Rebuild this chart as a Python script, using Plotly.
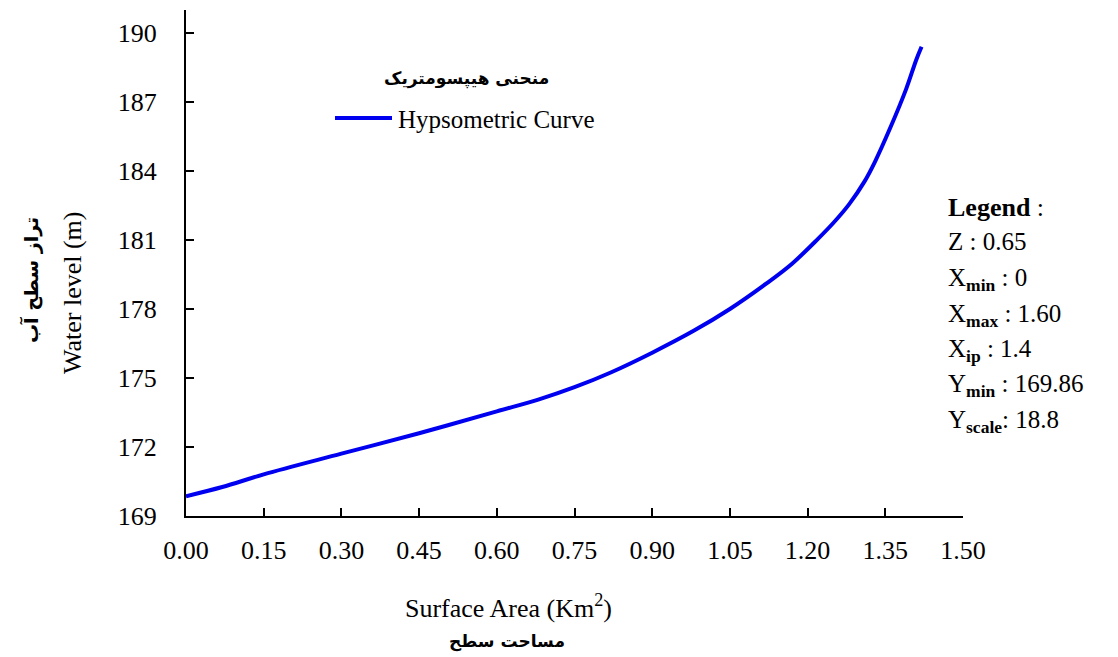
import plotly.graph_objects as go

# Hypsometric curve: surface area (km²) vs water level (m)
area_km2 = [0.00, 0.07, 0.15, 0.30, 0.45, 0.60, 0.68, 0.75, 0.82, 0.90, 0.98, 1.05, 1.12, 1.17,
            1.22, 1.25, 1.28, 1.31, 1.33, 1.36, 1.39, 1.41, 1.42]
water_level_m = [169.86, 170.26, 170.81, 171.71, 172.60, 173.55, 174.06, 174.60, 175.24, 176.10,
                 177.05, 178.00, 179.10, 179.97, 181.05, 181.75, 182.55, 183.55, 184.40, 185.90,
                 187.55, 188.85, 189.40]

x_ticks = [0.00, 0.15, 0.30, 0.45, 0.60, 0.75, 0.90, 1.05, 1.20, 1.35, 1.50]
y_ticks = [169, 172, 175, 178, 181, 184, 187, 190]

# Model parameters listed at the right of the chart
param_lines = [
    "Z : 0.65",
    "X<sub><b>min</b></sub> : 0",
    "X<sub><b>max</b></sub> : 1.60",
    "X<sub><b>ip</b></sub> : 1.4",
    "Y<sub><b>min</b></sub> : 169.86",
    "Y<sub><b>scale</b></sub>: 18.8",
]

W, H = 1118, 657
L, R, T, B = 186, 155, 10, 141
PW, PH = W - L - R, H - T - B

SERIF = "Liberation Serif, Times New Roman, serif"
FA = "DejaVu Sans, sans-serif"
LINE_COLOR = "#0000f0"


def px(xp):
    return (xp - L) / PW


def py(yp):
    return (H - B - yp) / PH


fig = go.Figure()
fig.add_trace(go.Scatter(
    x=area_km2, y=water_level_m, mode="lines",
    line=dict(color=LINE_COLOR, width=4, shape="spline", smoothing=1.0),
    name="Hypsometric Curve", showlegend=False,
))

axis_common = dict(
    showline=True, linecolor="black", linewidth=2,
    ticks="inside", ticklen=8, tickwidth=2, tickcolor="black",
    showgrid=False, zeroline=False,
    tickfont=dict(family=SERIF, size=26, color="black"),
)

fig.update_xaxes(range=[0, 1.5], tickvals=x_ticks,
                 ticktext=[f"{v:.2f}" for v in x_ticks],
                 ticklabelstandoff=10, **axis_common)
fig.update_yaxes(range=[169, 191], tickvals=y_ticks,
                 ticktext=[str(v) for v in y_ticks],
                 ticklabelstandoff=22, **axis_common)

ann = []
# axis titles
ann.append(dict(x=px(508), y=py(606), text="Surface Area (Km<sup>2</sup>)",
                font=dict(family=SERIF, size=26, color="black")))
ann.append(dict(x=px(507), y=py(641), text="<b>مساحت سطح</b>",
                font=dict(family=FA, size=17, color="black")))
ann.append(dict(x=px(72), y=py(292), text="Water level (m)", textangle=-90,
                font=dict(family=SERIF, size=26, color="black")))
ann.append(dict(x=px(31), y=py(280), text="<b>تراز سطح آب</b>", textangle=-90,
                font=dict(family=FA, size=19, color="black")))

# curve legend
ann.append(dict(x=px(466), y=py(78), text="<b>منحنی هیپسومتریک</b>",
                font=dict(family=FA, size=17, color="black")))
ann.append(dict(x=px(396), y=py(120), text="Hypsometric Curve", xanchor="left",
                font=dict(family=SERIF, size=25, color="black")))

# parameter block
ann.append(dict(x=px(946), y=py(207), text="<b>Legend</b> :", xanchor="left",
                font=dict(family=SERIF, size=26, color="black")))
row_y = [240, 276, 312, 347, 382, 418]
for txt, yy in zip(param_lines, row_y):
    ann.append(dict(x=px(946), y=py(yy), text=txt, xanchor="left", yanchor="top",
                    yshift=14, font=dict(family=SERIF, size=25, color="black")))

for a in ann:
    a.setdefault("xref", "paper")
    a.setdefault("yref", "paper")
    a.setdefault("showarrow", False)
    a.setdefault("xanchor", "center")
    a.setdefault("yanchor", "middle")

fig.update_layout(
    width=W, height=H,
    margin=dict(l=L, r=R, t=T, b=B),
    paper_bgcolor="white", plot_bgcolor="white",
    annotations=ann,
    shapes=[dict(type="line", xref="paper", yref="paper",
                 x0=px(335), x1=px(392), y0=py(118), y1=py(118),
                 line=dict(color=LINE_COLOR, width=4))],
    showlegend=False,
)

fig.write_html("out.html")
